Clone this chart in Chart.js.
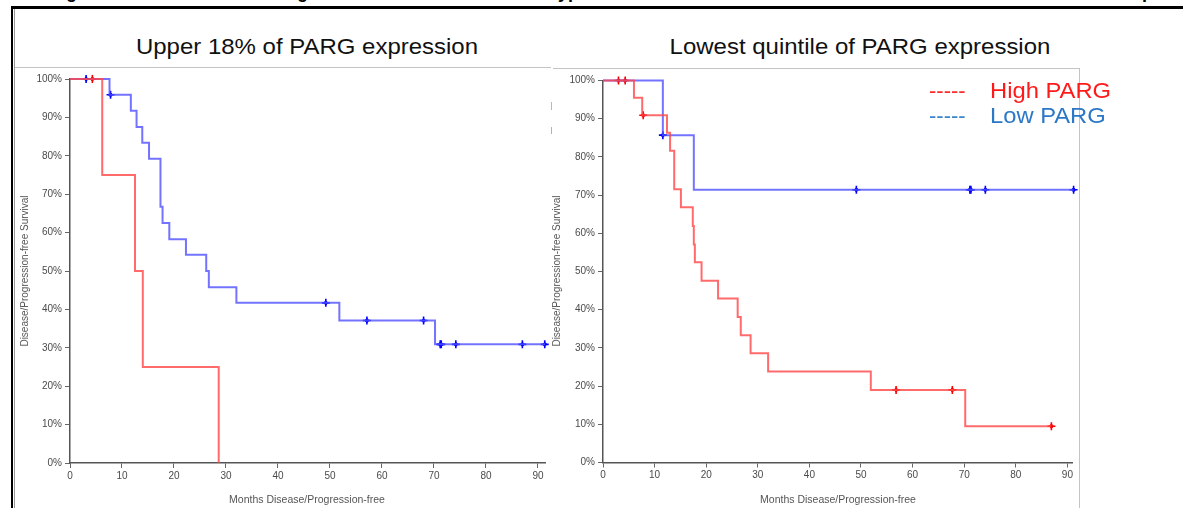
<!DOCTYPE html>
<html>
<head>
<meta charset="utf-8">
<script src="https://cdn.jsdelivr.net/npm/chart.js@4.4.1/dist/chart.umd.min.js"></script>
<style>
  html, body { margin: 0; padding: 0; background: #fff; }
  body { width: 1183px; height: 508px; position: relative; overflow: hidden;
         font-family: "Liberation Sans", Arial, sans-serif; }
  .abs { position: absolute; white-space: nowrap; line-height: 1; }
  .rule { position: absolute; }
  canvas { position: absolute; }
  .title { font-size: 22px; color: #111; transform: scaleX(1.09); transform-origin: center; }
  .xtitle { font-size: 10.5px; color: #555; }
  .ytitle { font-size: 10px; color: #555; transform: rotate(-90deg); transform-origin: center; }
  .leg { font-size: 22px; transform: scaleX(1.08); transform-origin: left; }
  .desc { font-size: 18px; font-weight: bold; color: #000; }
</style>
</head>
<body>

<!-- clipped text from the line above the figure -->
<div class="abs desc" style="left:66px; top:-16.7px;">g</div>
<div class="abs desc" style="left:297px; top:-16.7px;">g</div>
<div class="abs desc" style="left:558px; top:-16.7px;">yp</div>
<div class="abs desc" style="left:1142px; top:-16.7px;">p</div>

<!-- outer frame -->
<div class="rule" style="left:11px; top:6px; width:1172px; height:3px; background:#000;"></div>
<div class="rule" style="left:11px; top:6px; width:2px; height:502px; background:#000;"></div>
<div class="rule" style="left:14px; top:9px; width:1px; height:499px; background:#999;"></div>

<!-- panel edges -->
<div class="rule" style="left:15px; top:67px; width:536px; height:1px; background:#c4c4c4;"></div>
<div class="rule" style="left:553px; top:68px; width:527px; height:1px; background:#c4c4c4;"></div>
<div class="rule" style="left:1079px; top:68px; width:1px; height:440px; background:#c4c4c4;"></div>
<div class="rule" style="left:551px; top:102px; width:1px; height:8px; background:#ff9a9a;"></div>
<div class="rule" style="left:551px; top:127px; width:1px; height:7px; background:#a8a8ff;"></div>

<div class="abs title" style="left:7px; top:35.5px; width:600px; text-align:center;">Upper 18% of PARG expression</div>
<div class="abs title" style="left:560px; top:35.5px; width:600px; text-align:center;">Lowest quintile of PARG expression</div>

<canvas id="c1" width="537" height="440" style="left:15px; top:68px;"></canvas>
<canvas id="c2" width="525" height="439" style="left:553px; top:69px;"></canvas>

<div class="abs xtitle" style="left:157px; top:493.5px; width:300px; text-align:center;">Months Disease/Progression-free</div>
<div class="abs xtitle" style="left:688px; top:493.5px; width:300px; text-align:center;">Months Disease/Progression-free</div>
<div class="abs ytitle" style="left:-75px; top:266px; width:200px; text-align:center;">Disease/Progression-free Survival</div>
<div class="abs ytitle" style="left:457px; top:266px; width:200px; text-align:center;">Disease/Progression-free Survival</div>

<div class="abs leg" style="left:929px; top:79.7px; color:#ff2a2a; transform:none;">-----</div>
<div class="abs leg" style="left:990px; top:79.7px; color:#ff1a1a;">High PARG</div>
<div class="abs leg" style="left:929px; top:104.7px; color:#3a86cc; transform:none;">-----</div>
<div class="abs leg" style="left:990px; top:104.7px; color:#2a78c6;">Low PARG</div>

<script>
/******************** DATA: UPPER 18% ******************/
const highTimes1 = [0, 6.2, 12.5, 14.0, 28.6];
const highSurv1 = [100, 75, 50, 25, 0];
const highCensorT1 = [4.3];
const highCensorS1 = [100];

const lowTimes1 = [0, 7.6, 11.7, 12.8, 13.9, 15.2, 17.4, 17.8, 19.1, 22.3, 26.2, 26.7, 32.0, 51.8, 70.2, 91.4];
const lowSurv1 = [100, 95.9, 91.7, 87.5, 83.4, 79.2, 66.7, 62.5, 58.3, 54.2, 50.0, 45.8, 41.7, 37.1, 30.9, 30.9];
const lowCensorT1 = [3.1, 7.8, 49.2, 57.1, 68.0, 71.2, 71.4, 74.2, 87.0, 91.3];
const lowCensorS1 = [100, 95.9, 41.7, 37.1, 37.1, 30.9, 30.9, 30.9, 30.9, 30.9];

/**************** DATA: LOWEST QUINTILE ****************/
const highTimes2 = [0, 6.0, 7.6, 12.4, 13.0, 13.8, 15.1, 17.4, 17.6, 17.8, 19.1, 22.3, 26.1, 26.7, 28.6, 32.0, 51.9, 70.2, 86.9];
const highSurv2 = [100, 95.5, 90.9, 86.3, 81.6, 71.5, 66.8, 61.9, 57.1, 52.4, 47.6, 42.9, 38.1, 33.3, 28.6, 23.8, 19.0, 9.5, 9.5];
const highCensorT2 = [3.0, 4.3, 7.8, 56.8, 67.7, 86.9];
const highCensorS2 = [100, 100, 90.9, 19.0, 19.0, 9.5];

const lowTimes2 = [0, 11.6, 17.6, 91.2];
const lowSurv2 = [100, 85.7, 71.4, 71.4];
const lowCensorT2 = [11.6, 49.1, 71.1, 71.3, 74.1, 91.2];
const lowCensorS2 = [85.7, 71.4, 71.4, 71.4, 71.4, 71.4];

/********************** AXES ***************************/
const monthTicks = [0, 10, 20, 30, 40, 50, 60, 70, 80, 90];
const survTicks = [0, 10, 20, 30, 40, 50, 60, 70, 80, 90, 100];

const RED_LINE = 'rgba(255, 70, 70, 0.8)';
const BLUE_LINE = 'rgba(80, 80, 255, 0.8)';
const RED_MARK = '#ff0000';
const BLUE_MARK = '#0000ff';

/********************* HELPERS *************************/
function toPoints(xs, ys) {
  return xs.map((x, i) => ({ x, y: ys[i] }));
}

// horizontal at the old value, then drop at the event time
function curve(times, surv, color) {
  return {
    data: toPoints(times, surv),
    borderColor: color,
    borderWidth: 2,
    stepped: 'before',
    pointRadius: 0,
    fill: false,
    clip: 8
  };
}

function censors(times, surv, color, style, radius) {
  return {
    data: toPoints(times, surv),
    showLine: false,
    pointStyle: style,
    pointRadius: radius,
    pointBorderWidth: style === 'cross' ? 1.6 : 1,
    borderColor: color,
    backgroundColor: color,
    clip: 8
  };
}

function axisStyle() {
  return {
    grid: { display: true, drawOnChartArea: false, drawTicks: true, tickLength: 5, color: '#666', lineWidth: 1 },
    border: { display: true, color: '#555', width: 1.5 }
  };
}

function buildChart(id, datasets, xMax, padTop, padRight, yWidth, xHeight) {
  new Chart(document.getElementById(id), {
    type: 'line',
    data: { datasets },
    options: {
      responsive: false,
      animation: false,
      events: [],
      layout: { padding: { top: padTop, right: padRight, left: 0, bottom: 0 } },
      plugins: { legend: { display: false }, tooltip: { enabled: false } },
      scales: {
        x: {
          type: 'linear',
          min: 0,
          max: xMax,
          afterBuildTicks: s => { s.ticks = monthTicks.map(v => ({ value: v })); },
          afterFit: s => { s.height = xHeight; },
          ticks: { font: { size: 10, family: 'Liberation Sans' }, color: '#4a4a4a', padding: 2, maxRotation: 0 },
          ...axisStyle()
        },
        y: {
          min: 0,
          max: 100,
          afterBuildTicks: s => { s.ticks = survTicks.map(v => ({ value: v })); },
          afterFit: s => { s.width = yWidth; },
          ticks: { font: { size: 10, family: 'Liberation Sans' }, color: '#4a4a4a', padding: 3, callback: v => v + '%' },
          ...axisStyle()
        }
      }
    }
  });
}

/************************ DRAW *************************/
buildChart('c1', [
  curve(highTimes1, highSurv1, RED_LINE),
  curve(lowTimes1, lowSurv1, BLUE_LINE),
  censors(highCensorT1, highCensorS1, RED_MARK, 'cross', 4),
  censors(highCensorT1, highCensorS1, RED_MARK, 'rectRot', 2.2),
  censors(lowCensorT1, lowCensorS1, BLUE_MARK, 'cross', 4),
  censors(lowCensorT1, lowCensorS1, BLUE_MARK, 'rectRot', 2.2)
], 91.35, 11, 7, 55, 45);

buildChart('c2', [
  curve(highTimes2, highSurv2, RED_LINE),
  curve(lowTimes2, lowSurv2, BLUE_LINE),
  censors(highCensorT2, highCensorS2, RED_MARK, 'cross', 4),
  censors(highCensorT2, highCensorS2, RED_MARK, 'rectRot', 2.2),
  censors(lowCensorT2, lowCensorS2, BLUE_MARK, 'cross', 4),
  censors(lowCensorT2, lowCensorS2, BLUE_MARK, 'rectRot', 2.2)
], 90.97, 11.5, 5, 50, 45.5);
</script>
</body>
</html>
